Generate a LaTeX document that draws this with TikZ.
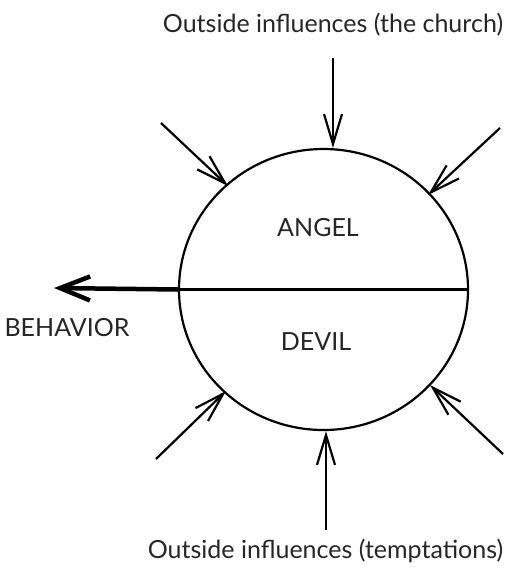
\documentclass[tikz,border=0pt]{standalone}
\usepackage{fontspec}
\setmainfont{Lato}
\usetikzlibrary{arrows.meta,shapes.geometric}
\tikzset{
  lbl/.style={font=\fontsize{25}{29}\selectfont, inner sep=0pt, text=black!85},
  infl/.style={-{Straight Barb[length=30pt,width=18pt]}, line width=2.2pt},
  behav/.style={-{Straight Barb[length=30pt,width=24pt]}, line width=4.5pt},
}
\begin{document}
\begin{tikzpicture}[x=1pt,y=-1pt]
  \useasboundingbox (0,0) rectangle (515,573);
  % the mind, split in two halves
  \node[draw, ellipse, line width=2.2pt, minimum width=289pt, minimum height=281pt,
        inner sep=0pt] (soul) at (323.5,289.5) {};
  \draw[line width=2.2pt] (soul.west) -- (soul.east);
  \node[lbl] (angel) at (318,228) {ANGEL};
  \node[lbl] (devil) at (316,342) {DEVIL};
  % outward behavior
  \coordinate (beh) at (54,288);
  \draw[behav] (soul.west) -- (beh);
  \node[lbl] (behavior) at (67,328) {BEHAVIOR};
  % influences from outside
  \node[lbl] (church) at (333,25) {Outside influences (the church)};
  \node[lbl] (tempt) at (325.5,551) {Outside influences (temptations)};
  \coordinate (top) at (333,58);
  \coordinate (bot) at (326,530);
  \coordinate (ul) at (161,123);  \coordinate (ulT) at (228,186);
  \coordinate (ur) at (500,128);  \coordinate (urT) at (428,195);
  \coordinate (ll) at (156,459);  \coordinate (llT) at (226,391);
  \coordinate (lr) at (503,454);  \coordinate (lrT) at (430,385);
  \draw[infl] (top) -- (top |- soul.north);
  \draw[infl] (bot) -- (bot |- soul.south);
  \draw[infl] (ul) -- (ulT);
  \draw[infl] (ur) -- (urT);
  \draw[infl] (ll) -- (llT);
  \draw[infl] (lr) -- (lrT);
\end{tikzpicture}
\end{document}
